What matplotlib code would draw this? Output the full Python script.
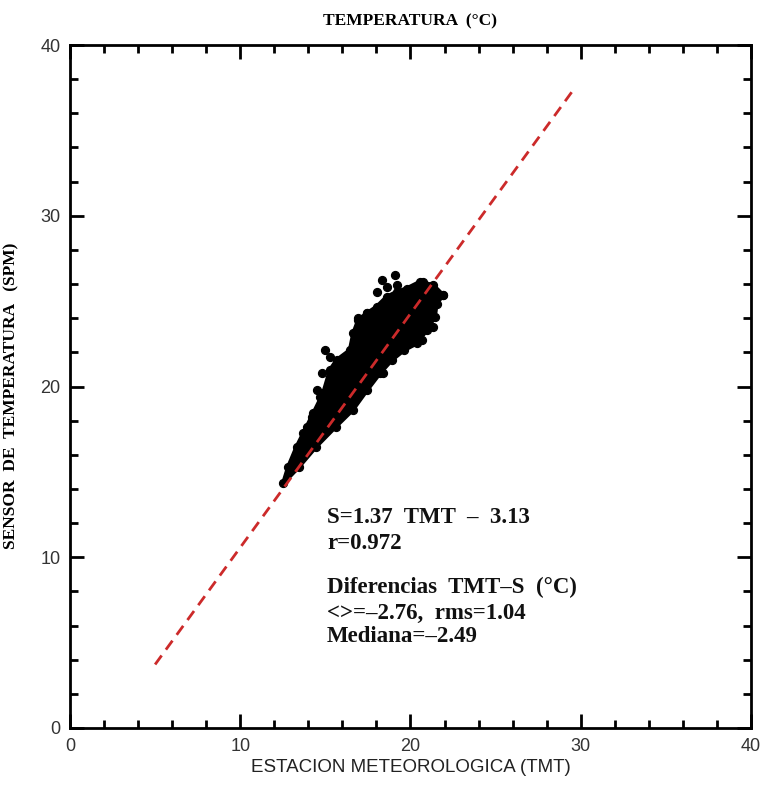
import matplotlib.pyplot as plt
from matplotlib.ticker import MultipleLocator

# contorno de la nube densa (TMT, S)
nube_x = [12.52, 13.45, 14.45, 15.60, 16.60, 17.45, 18.20, 18.90, 19.62, 20.36,
          20.95, 21.43, 21.53, 21.92, 21.33, 20.55, 19.77, 19.18, 18.60, 18.01,
          17.42, 16.93, 16.64, 16.44, 15.66, 15.27, 14.87, 14.29, 13.90, 13.31, 12.82]
nube_y = [14.33, 15.30, 16.47, 17.64, 18.62, 19.79, 20.77, 21.55, 22.13, 22.52,
          23.30, 24.08, 24.86, 25.35, 25.94, 26.13, 25.74, 25.54, 25.25, 24.67,
          24.28, 23.89, 23.11, 22.13, 21.55, 20.96, 19.60, 18.42, 17.64, 16.47, 15.30]

# puntos sueltos en el borde de la nube
pts_x = [19.08, 18.30, 18.60, 18.01, 19.18, 20.75, 21.92, 20.65, 17.42, 16.93,
         16.74, 14.97, 15.27, 16.44, 14.78, 14.49, 14.68, 14.19, 13.70, 20.95,
         21.33, 18.40]
pts_y = [26.52, 26.23, 25.84, 25.54, 25.94, 26.13, 25.35, 22.72, 24.28, 23.99,
         23.01, 22.13, 21.74, 21.94, 20.77, 19.79, 19.40, 18.23, 17.25, 24.67,
         23.50, 20.77]

# ajuste S = a*TMT + b
a, b = 1.37, -3.13
x_ajuste = [5.0, 29.7]

lineas = ["S=1.37  TMT  –  3.13", "r=0.972", "Diferencias  TMT–S  (°C)",
          "<>=–2.76,  rms=1.04", "Mediana=–2.49"]
lineas_y = [12.35, 10.83, 8.26, 6.73, 5.33]

fig = plt.figure(figsize=(7.64, 7.90), dpi=100)
ax = fig.add_axes([0.0916, 0.0785, 0.8914, 0.8645])

ax.fill(nube_x, nube_y, color="black", lw=3, zorder=2)
ax.scatter(nube_x + pts_x, nube_y + pts_y, s=32, color="black", zorder=2)

ya = [a * v + b for v in x_ajuste]
ax.plot(x_ajuste, ya, color="#cc2a2a", lw=2, ls=(0, (4, 2.6)), zorder=3)

ax.set_xlim(0, 40)
ax.set_ylim(0, 40)
ax.xaxis.set_major_locator(MultipleLocator(10))
ax.xaxis.set_minor_locator(MultipleLocator(2))
ax.yaxis.set_major_locator(MultipleLocator(10))
ax.yaxis.set_minor_locator(MultipleLocator(2))
ax.tick_params(which="both", direction="in", top=True, right=True, width=2,
               labelsize=13, pad=7)
ax.tick_params(which="major", length=10)
ax.tick_params(which="minor", length=5.5)
for lab in ax.get_xticklabels() + ax.get_yticklabels():
    lab.set_family("Liberation Sans")
    lab.set_color("#333333")
for s in ax.spines.values():
    s.set_linewidth(2)

ax.set_xlabel("ESTACION METEOROLOGICA (TMT)", family="Liberation Sans",
              fontsize=13.5, color="#222222", labelpad=3)
ax.set_ylabel("SENSOR  DE  TEMPERATURA   (SPM)", family="Liberation Serif",
              fontweight="bold", fontsize=12.5)
ax.yaxis.set_label_coords(-0.075, 0.486)
ax.set_title("TEMPERATURA  (°C)", family="Liberation Serif", fontweight="bold",
             fontsize=12.5, pad=14)

for t, yy in zip(lineas, lineas_y):
    ax.text(15.09, yy, t, family="Liberation Serif", fontweight="bold",
            fontsize=16.5, color="#111111", va="center")

fig.savefig("out.png", dpi=100)
